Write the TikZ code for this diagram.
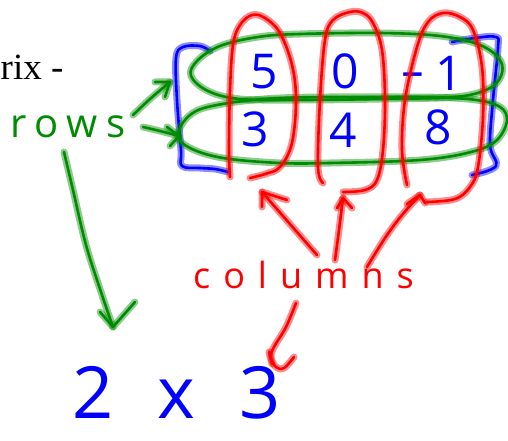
\documentclass[tikz,border=0pt]{standalone}
\usepackage{fontspec}
\setmainfont{Liberation Serif}
\newfontfamily\handfont{Open Sans}
\definecolor{inkred}{RGB}{255,0,0}
\definecolor{inkblue}{RGB}{0,0,255}
\definecolor{inkgreen}{RGB}{0,140,0}
\tikzset{
  pen/.style={draw=#1, line width=2.6pt, line cap=round, line join=round,
    preaction={draw=#1, draw opacity=0.45, line width=7pt, line cap=round, line join=round}},
  rpen/.style={pen=inkred},
  bpen/.style={pen=inkblue},
  gpen/.style={pen=inkgreen},
  hand/.style={inner sep=0pt, font=\handfont\fontsize{#1}{#1}\selectfont},
  digit/.style={hand=48, text=inkblue},
  sm/.style={smooth, tension=0.6},
}
\begin{document}
\begin{tikzpicture}[x=1pt, y=-1pt]
\useasboundingbox (0,0) rectangle (508,441);
\fill[white] (0,0) rectangle (508,441);

% printed text
\node[font=\fontsize{37}{37}\selectfont, anchor=base west, inner sep=0pt] (title) at (0.5,80) {rix -};

% blue brackets
\draw[bpen] plot[sm] coordinates {(210,51) (200,46) (183,47) (176,58) (177,100) (181,150) (182,166) (200,168) (215,169) (228,172)};
\draw[bpen] plot[sm] coordinates {(452,42) (475,38) (496,37) (498,48) (493,100) (490,145) (496,166) (472,175)};

% matrix entries
\node[digit] (e11) at (264,72) {5};
\node[digit] (e12) at (345,71) {0};
\node[digit] (e13) at (432,73) {\raisebox{3pt}{\scalebox{1.6}[1]{-}}\hspace{10pt}1};
\node[digit] (e21) at (255,129) {3};
\node[digit] (e22) at (343,130) {4};
\node[digit] (e23) at (438,127) {8};

% green row ellipses
\draw[gpen] plot[smooth cycle, tension=0.6] coordinates {(300,34) (380,33) (440,36) (480,45) (500,60) (501,76) (488,89) (455,97) (380,99) (300,100) (240,99) (208,91) (191,76) (197,61) (220,46) (258,37)};
\draw[gpen] plot[smooth cycle, tension=0.6] coordinates {(280,98) (380,97) (454,98) (494,104) (507,118) (497,140) (471,152) (420,160) (330,163) (280,163) (223,158) (190,148) (178,135) (190,115) (217,105)};

% red column loops
\draw[rpen] plot[sm] coordinates {(230,177) (229,150) (230,90) (233,45) (240,25) (252,15) (265,18) (280,33) (292,65) (296,100) (292,143) (280,167) (265,174) (250,178)};
\draw[rpen] plot[sm] coordinates {(323,183) (318,167) (320,100) (325,40) (333,20) (350,12) (363,13) (373,23) (382,50) (385,100) (383,150) (377,180) (365,190) (343,192)};
\draw[rpen] plot[sm] coordinates {(407,185) (402,150) (405,100) (417,47) (428,22) (443,13) (460,17) (473,30) (482,67) (483,117) (478,167) (470,187) (455,199) (427,202)};

% rows label and arrows
\node[hand=40, text=inkgreen, anchor=base west] (rows) at (10,137) {\addfontfeature{LetterSpace=22}rows};
\coordinate (rtipA) at (170,82);
\coordinate (rtipB) at (179,136);
\coordinate (rtipC) at (113,327);
\draw[gpen] plot[sm] coordinates {(133,115) (150,99) (rtipA)};
\draw[gpen] (155,82) -- (rtipA) -- (165,97);
\draw[gpen] plot[sm] coordinates {(143,127) (160,131) (rtipB)};
\draw[gpen] (167,127) -- (rtipB) -- (170,146);
\draw[gpen] plot[sm] coordinates {(64,152) (73,190) (86,245) (101,292) (rtipC)};
\draw[gpen] (100,312) -- (rtipC) -- (135,302);

% columns label and arrows
\node[hand=36, text=inkred, anchor=base west] (cols) at (193,288) {\addfontfeature{LetterSpace=36}columns};
\coordinate (ctipA) at (262,192);
\coordinate (ctipB) at (343,198);
\coordinate (ctipC) at (420,195);
\coordinate (ctipD) at (272,364);
\draw[rpen] (317,255) -- (ctipA);
\draw[rpen] (262,207) -- (ctipA) -- (287,200);
\draw[rpen] plot[sm] coordinates {(335,260) (339,230) (ctipB)};
\draw[rpen] (337,208) -- (ctipB) -- (352,208);
\draw[rpen] plot[sm] coordinates {(367,267) (385,238) (402,215) (ctipC)};
\draw[rpen] (407,204) -- (ctipC) -- (425,203);
\draw[rpen] plot[sm] coordinates {(296,303) (286,327) (274,347) (271,357) (276,367) (284,368) (294,357)};
\draw[rpen] (269,352) -- (ctipD);

% dimension
\node[hand=72, text=inkblue, anchor=base west] (dim) at (72,418) {\spaceskip=44pt 2 x 3};
\end{tikzpicture}
\end{document}
